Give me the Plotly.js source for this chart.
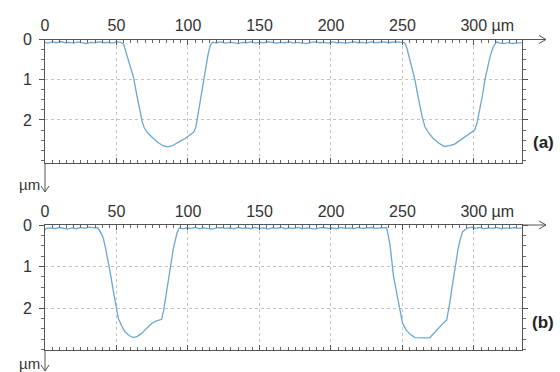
<!DOCTYPE html>
<html>
<head>
<meta charset="utf-8">
<script src="https://cdn.plot.ly/plotly-3.0.1.min.js"></script>
<style>
  html, body { margin: 0; padding: 0; background: #fff; }
  #chart { width: 560px; height: 372px; }
</style>
</head>
<body>
<div id="chart"></div>
<script>
// Depth profiles (µm) across two grooves, profile (a) and profile (b)
const profileAx = [
  0, 2, 5, 8, 11, 14, 17, 20, 23, 26, 29, 32, 35, 38, 41, 44, 47, 50, 53,
  55, 56.5, 58, 60, 62, 63.5, 65, 66.5, 68, 69.5, 72, 75.5, 79, 82.5, 86, 89, 92, 95, 98, 101, 104,
  105.5, 107, 109, 111, 112.5, 114, 115.5, 117,
  120, 123, 126, 129, 132, 135, 138, 141, 144, 147, 150, 153, 156, 159, 162, 165, 168, 171, 174, 177,
  180, 183, 186, 189, 192, 195, 198, 201, 204, 207, 210, 213, 216, 219, 222, 225, 228, 231, 234, 237,
  240, 243, 246, 249, 251.5,
  253, 255, 257, 258.7, 260.5, 262.2, 264, 265.7, 268.5, 271.5, 275.5, 279.5, 283, 286.5, 290, 293.5,
  297, 300.5, 302.3, 304.2, 306, 307.7, 309.5, 311.2, 313.5, 315.9,
  318, 321, 324, 327, 330, 333.5
];
const profileAy = [
  0.07, 0.09, 0.06, 0.08, 0.05, 0.08, 0.07, 0.09, 0.06, 0.08, 0.10, 0.07, 0.08, 0.06, 0.08, 0.07, 0.09, 0.06, 0.07,
  0.12, 0.30, 0.50, 0.75, 0.95, 1.25, 1.55, 1.80, 2.05, 2.20, 2.33, 2.45, 2.56, 2.64, 2.67, 2.64, 2.59, 2.52, 2.46, 2.39, 2.30,
  2.18, 1.85, 1.40, 1.00, 0.70, 0.38, 0.15, 0.07,
  0.08, 0.06, 0.09, 0.07, 0.08, 0.10, 0.07, 0.08, 0.06, 0.09, 0.07, 0.08, 0.06, 0.08, 0.09, 0.07, 0.08, 0.06, 0.09, 0.07,
  0.08, 0.10, 0.07, 0.06, 0.08, 0.07, 0.09, 0.06, 0.08, 0.07, 0.09, 0.07, 0.06, 0.08, 0.07, 0.09, 0.06, 0.08, 0.07, 0.06,
  0.08, 0.07, 0.06, 0.07, 0.08,
  0.20, 0.48, 0.75, 1.00, 1.35, 1.67, 1.95, 2.17, 2.33, 2.46, 2.58, 2.66, 2.64, 2.60, 2.51, 2.42,
  2.35, 2.25, 2.05, 1.75, 1.38, 1.00, 0.68, 0.43, 0.18, 0.06,
  0.09, 0.10, 0.08, 0.10, 0.09, 0.08
];

const profileBx = [
  0, 1, 4, 7, 10, 13, 16, 19, 22, 25, 28, 31, 34, 36.5,
  38, 39.5, 40.8, 42.5, 44.3, 46, 47.8, 49.5, 51.3, 53.5, 55.9, 58.8, 61.7, 64.5, 67.6, 71, 74.6, 78, 81.6,
  83, 83.9, 85, 86.2, 87.4, 88.6, 89.8, 90.9, 92.4, 93.9,
  96, 99, 102, 105, 108, 111, 114, 117, 120, 123, 126, 129, 132, 135, 138, 141, 144, 147, 150, 153,
  156, 159, 162, 165, 168, 171, 174, 177, 180, 183, 186, 189, 192, 195, 198, 201, 204, 207, 210, 213,
  216, 219, 222, 225, 228, 231, 234, 237,
  238.9, 240, 241.3, 242.4, 243.6, 245.3, 247.1, 248.6, 250.1, 252.5, 255, 258.7, 262, 265.5, 269.2,
  272, 275, 278, 280.9, 282, 283.2, 284.6, 286, 287.5, 289, 290.5, 292.1, 295, 298.4,
  301, 304, 307, 310, 313, 316, 319, 322, 325, 328, 331, 333.5
];
const profileBy = [
  0.12, 0.08, 0.07, 0.09, 0.06, 0.08, 0.10, 0.07, 0.09, 0.06, 0.08, 0.05, 0.07, 0.06,
  0.12, 0.22, 0.32, 0.58, 0.88, 1.22, 1.60, 1.95, 2.25, 2.42, 2.57, 2.66, 2.71, 2.68, 2.61, 2.49, 2.37, 2.31, 2.27,
  2.05, 1.85, 1.55, 1.28, 1.00, 0.76, 0.56, 0.40, 0.18, 0.07,
  0.09, 0.07, 0.08, 0.06, 0.09, 0.07, 0.08, 0.10, 0.07, 0.06, 0.08, 0.07, 0.09, 0.06, 0.08, 0.07, 0.09, 0.06, 0.08, 0.07,
  0.10, 0.07, 0.08, 0.06, 0.09, 0.07, 0.08, 0.06, 0.09, 0.07, 0.08, 0.10, 0.07, 0.06, 0.08, 0.07, 0.09, 0.06, 0.08, 0.07,
  0.09, 0.06, 0.08, 0.07, 0.06, 0.08, 0.07, 0.06,
  0.06, 0.25, 0.48, 0.82, 1.20, 1.52, 1.85, 2.12, 2.37, 2.52, 2.62, 2.71, 2.72, 2.72, 2.71,
  2.60, 2.49, 2.38, 2.29, 2.10, 1.85, 1.52, 1.20, 0.88, 0.56, 0.33, 0.16, 0.08, 0.05,
  0.08, 0.06, 0.09, 0.07, 0.08, 0.06, 0.09, 0.07, 0.08, 0.06, 0.08, 0.07
];

const xTicks = [0, 50, 100, 150, 200, 250, 300];
const yTicks = [0, 1, 2];
const panelLabels = ['(a)', '(b)'];
const unitLabel = 'µm';

// last x label carries the unit; leading figure spaces keep the number centred on its tick
const FIG = '\u2007';
const xTickText = xTicks.map((v, i) =>
  i === xTicks.length - 1 ? FIG + FIG + FIG + v + ' ' + unitLabel : String(v));

// page geometry (pixels) used to place decorations in paper coordinates
const W = 560, H = 372, PL = 45, PR = 522;
const fx = px => (px - PL) / (PR - PL);
const fy = py => (H - py) / H;

const lineColor = '#6ea7d3';
const axisColor = '#555';
const tickFont = { family: 'Liberation Sans, Arial, sans-serif', size: 16, color: '#333' };

const traces = [
  { x: profileAx, y: profileAy, xaxis: 'x', yaxis: 'y', type: 'scatter', mode: 'lines',
    line: { color: lineColor, width: 1.3 }, hoverinfo: 'skip' },
  { x: profileBx, y: profileBy, xaxis: 'x2', yaxis: 'y2', type: 'scatter', mode: 'lines',
    line: { color: lineColor, width: 1.3 }, hoverinfo: 'skip' }
];

function xAxis(anchor) {
  return {
    anchor: anchor, side: 'top', domain: [0, 1], range: [0, 333.6],
    tickmode: 'array', tickvals: xTicks, ticktext: xTickText,
    showline: true, linecolor: axisColor, linewidth: 1, mirror: 'ticks',
    ticks: 'inside', ticklen: 5, tickcolor: axisColor, tickwidth: 1,
    ticklabelstandoff: 1,
    minor: { tickmode: 'linear', tick0: 0, dtick: 5, ticks: 'inside', ticklen: 3,
             tickcolor: '#666', showgrid: false },
    showgrid: true, gridcolor: '#c4c4c4', griddash: 'dot', gridwidth: 1,
    zeroline: false, tickfont: tickFont, fixedrange: true
  };
}
function yAxis(anchor, domain, top) {
  return {
    anchor: anchor, domain: domain, range: [top, 0],
    tickmode: 'array', tickvals: yTicks, ticktext: yTicks.map(String),
    showline: true, linecolor: axisColor, linewidth: 1, mirror: 'ticks',
    ticks: 'outside', ticklen: 5, tickcolor: axisColor, tickwidth: 1,
    minor: { tickmode: 'linear', tick0: 0, dtick: 0.25, ticks: 'outside', ticklen: 3,
             tickcolor: '#666', showgrid: false },
    showgrid: true, gridcolor: '#c4c4c4', griddash: 'dot', gridwidth: 1,
    zeroline: false, tickfont: tickFont, ticklabelstandoff: 4, fixedrange: true
  };
}

const shapes = [];
const annotations = [];
const lineStyle = { color: axisColor, width: 1 };

// arrow extensions of the axes and the unit labels for each panel
[[39.5, 163, 192, panelLabels[0], 142], [225, 350, 371, panelLabels[1], 322]].forEach(
  ([topPx, botPx, tipPx, label, labelPx]) => {
    shapes.push({ type: 'line', xref: 'paper', yref: 'paper',
      x0: fx(PR), y0: fy(topPx), x1: fx(546), y1: fy(topPx), line: lineStyle });
    shapes.push({ type: 'path', xref: 'paper', yref: 'paper', line: lineStyle,
      path: `M ${fx(539)} ${fy(topPx - 4)} L ${fx(546)} ${fy(topPx)} L ${fx(539)} ${fy(topPx + 4)}` });
    shapes.push({ type: 'line', xref: 'paper', yref: 'paper',
      x0: fx(PL), y0: fy(botPx), x1: fx(PL), y1: fy(tipPx), line: lineStyle });
    shapes.push({ type: 'path', xref: 'paper', yref: 'paper', line: lineStyle,
      path: `M ${fx(41)} ${fy(tipPx - 6)} L ${fx(PL)} ${fy(tipPx)} L ${fx(49)} ${fy(tipPx - 6)}` });
    annotations.push({ text: unitLabel, xref: 'paper', yref: 'paper', x: fx(29), y: fy(tipPx - 8),
      showarrow: false, font: { family: tickFont.family, size: 15, color: '#333' },
      xanchor: 'center', yanchor: 'middle' });
    annotations.push({ text: '<b>' + label + '</b>', xref: 'paper', yref: 'paper', x: fx(543), y: fy(labelPx),
      showarrow: false, font: { family: 'Liberation Sans, Arial, sans-serif', size: 17, color: '#222' },
      xanchor: 'center', yanchor: 'middle' });
  });

const layout = {
  width: W, height: H,
  margin: { l: PL, r: W - PR, t: 0, b: 0, pad: 0 },
  paper_bgcolor: '#fff', plot_bgcolor: '#fff',
  showlegend: false,
  xaxis: xAxis('y'),
  yaxis: yAxis('x', [fy(163), fy(39.5)], 3.07),
  xaxis2: xAxis('y2'),
  yaxis2: yAxis('x2', [fy(350), fy(225)], 3.01),
  shapes: shapes,
  annotations: annotations
};

Plotly.newPlot('chart', traces, layout, { staticPlot: true, displayModeBar: false });
</script>
</body>
</html>
